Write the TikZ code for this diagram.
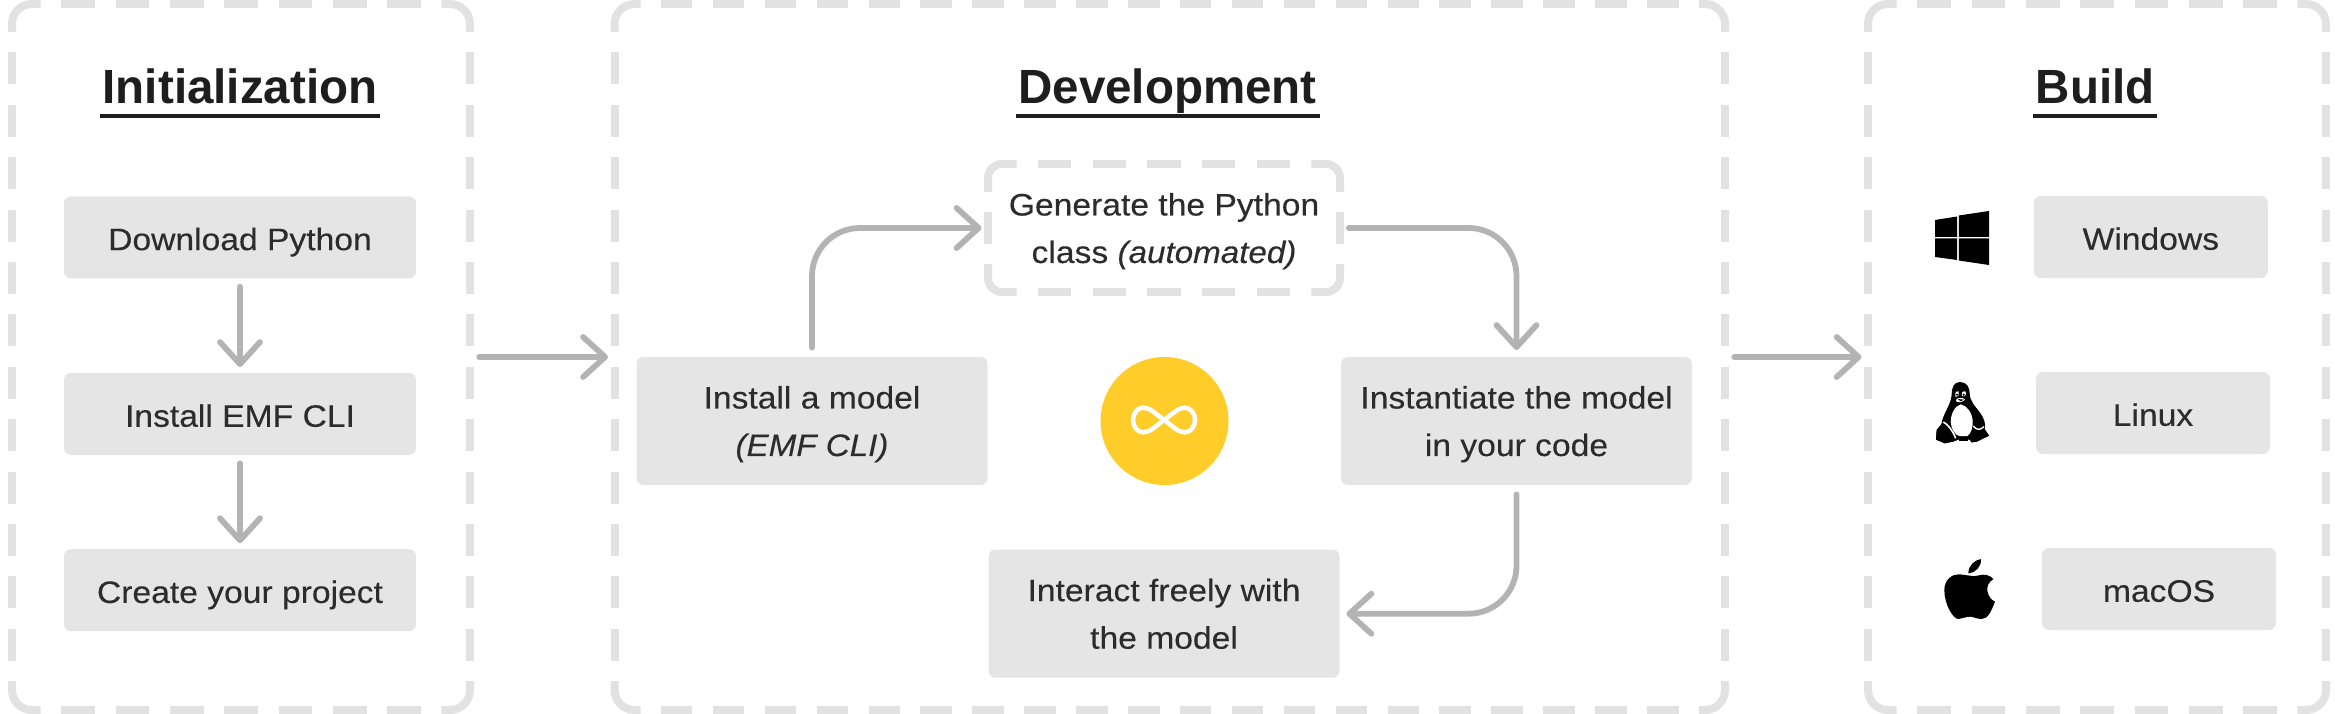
\documentclass[tikz,border=0pt]{standalone}
\usepackage{fontspec}
\setmainfont[UprightFeatures={FakeStretch=1.085,FakeBold=0.25},ItalicFeatures={FakeStretch=1.07,FakeBold=0.25},BoldFeatures={FakeStretch=0.99}]{Liberation Sans}
\usetikzlibrary{arrows.meta,calc}

\definecolor{boxgray}{HTML}{E5E5E5}
\definecolor{framegray}{HTML}{E2E2E2}
\definecolor{arrowgray}{HTML}{B3B3B3}
\definecolor{textdark}{HTML}{2C2C2C}
\definecolor{titledark}{HTML}{1E1E1E}
\definecolor{loopyellow}{HTML}{FFCD29}

\tikzset{
  framearea/.style={minimum width=#1, minimum height=706pt, inner sep=0pt, outer sep=0pt},
  frameline/.style={draw=framegray, line width=8pt},
  stepbox/.style={fill=boxgray, rounded corners=7pt, minimum width=352pt, minimum height=82pt,
    inner sep=0pt, outer sep=0pt, text=textdark, text height=25.5pt, text depth=0pt,
    font=\fontsize{31}{47.5}\selectfont},
  widebox/.style={fill=boxgray, rounded corners=7pt, minimum width=351pt, minimum height=128pt,
    inner sep=0pt, outer sep=0pt, text=textdark, align=center, text depth=0pt,
    font=\fontsize{31}{47.5}\selectfont},
  headtitle/.style={anchor=base, inner sep=0pt, outer sep=0pt, text=titledark,
    font=\fontsize{48}{50}\selectfont\bfseries},
  headrule/.style={draw=titledark, line width=3.7pt},
  flowarrow/.style={draw=arrowgray, line width=5.8pt, line cap=round,
    -{Straight Barb[length=22pt, width=40pt, round]}},
}

\newcommand{\dashframe}[5]{
  \foreach \corner/\sx/\sy in {north west/1/1, north east/-1/1, south east/-1/-1, south west/1/-1}
    \draw[frameline, rounded corners=#2] ($(#1.\corner)+(0,\sy*28)$) -- (#1.\corner) -- ($(#1.\corner)+(\sx*#3,0)$);
  \draw[frameline, dash pattern=on #4pt off #5pt, dash phase=#4pt] ($(#1.north west)+(#3,0)$) -- ($(#1.north east)+(-#3,0)$);
  \draw[frameline, dash pattern=on #4pt off #5pt, dash phase=#4pt] ($(#1.south west)+(#3,0)$) -- ($(#1.south east)+(-#3,0)$);
  \draw[frameline, dash pattern=on 32pt off 20.4pt, dash phase=32pt] ($(#1.north west)+(0,28)$) -- ($(#1.south west)+(0,-28)$);
  \draw[frameline, dash pattern=on 32pt off 20.4pt, dash phase=32pt] ($(#1.north east)+(0,28)$) -- ($(#1.south east)+(0,-28)$);
}

\begin{document}
\begin{tikzpicture}[x=1pt, y=-1pt]
\useasboundingbox (0,0) rectangle (2335,714);

% the three areas
\node[framearea=458pt] (initframe) at (241,357) {};
\node[framearea=1110.5pt] (devframe) at (1169.75,357) {};
\node[framearea=458pt] (buildframe) at (2097,357) {};
\dashframe{initframe}{20pt}{28.7}{33.6}{20.7}
\dashframe{devframe}{20pt}{26}{31.5}{20.4}
\dashframe{buildframe}{20pt}{28.7}{33.6}{20.7}

% titles
\node[headtitle] (inittitle) at (240,104) {Initialization};
\node[headtitle] (devtitle) at (1167.6,104) {Development};
\node[headtitle] (buildtitle) at (2095.3,104) {Build};
\foreach \t in {inittitle,devtitle,buildtitle}
  \draw[headrule] ([xshift=-2.7pt,yshift=-11.8pt]\t.base west) -- ([xshift=2.7pt,yshift=-11.8pt]\t.base east);

% initialization
\node[stepbox] (download) at (240,237.4) {Download Python};
\node[stepbox] (emfcli) at (240,414) {Install EMF CLI};
\node[stepbox] (project) at (240,590.2) {Create your project};
\draw[flowarrow, shorten <=8.3pt, shorten >=6pt] (download) -- (emfcli);
\draw[flowarrow, shorten <=8.3pt, shorten >=6pt] (emfcli) -- (project);

% development
\node[widebox] (install) at (812,421) {Install a model\\\textit{(EMF CLI)}};
\node[widebox, fill=none, minimum width=352pt] (generate) at (1164,228) {Generate the Python\\class \textit{(automated)}};
\node[widebox] (instantiate) at (1516.5,421) {Instantiate the model\\in your code};
\node[widebox] (interact) at (1164,613.7) {Interact freely with\\the model};
\dashframe{generate}{14pt}{28.7}{33.3}{21.35}

\node[circle, fill=loopyellow, minimum size=128pt, inner sep=0pt, outer sep=0pt] (loopdot) at (1164.5,421) {};
\begin{scope}[shift={(1080,345)}, x=1pt/3, y=-1pt/3]
\draw[white, line width=4.5pt] (252,225) .. controls (225,205) and (210,188) .. (190,188)
  .. controls (172,188) and (159,205) .. (159,225) .. controls (159,245) and (172,262) .. (190,262)
  .. controls (210,262) and (225,245) .. (252,225) .. controls (280,205) and (295,188) .. (314,188)
  .. controls (332,188) and (345,205) .. (345,225) .. controls (345,245) and (332,262) .. (314,262)
  .. controls (295,262) and (280,245) .. (252,225) -- cycle;
\end{scope}

\draw[flowarrow, rounded corners=48pt, shorten <=9.5pt, shorten >=6.5pt] (install.north) |- (generate.west);
\draw[flowarrow, rounded corners=48pt, shorten <=8.8pt, shorten >=7pt] (generate.east) -| (instantiate.north);
\draw[flowarrow, rounded corners=48pt, shorten <=9.5pt, shorten >=7pt] (instantiate.south) |- (interact.east);

% build
\node[stepbox, minimum width=234pt] (windows) at (2150.8,237) {Windows};
\node[stepbox, minimum width=234pt] (linux) at (2153,413) {Linux};
\node[stepbox, minimum width=234pt] (macos) at (2159,589) {macOS};

% arrows between the areas
\draw[flowarrow, shorten <=9.2pt, shorten >=6.5pt] (initframe.east) -- (devframe.west);
\draw[flowarrow, shorten <=9.2pt, shorten >=6.5pt] (devframe.east) -- (buildframe.west);

% windows logo
\fill[black] (1935,220) -- (1957,216.5) -- (1957,236.8) -- (1935,236.8) -- cycle;
\fill[black] (1958.8,215.5) -- (1989,211) -- (1989,236.8) -- (1958.8,236.8) -- cycle;
\fill[black] (1935,238.5) -- (1957,238.5) -- (1957,260) -- (1935,257) -- cycle;
\fill[black] (1958.8,238.5) -- (1989,238.5) -- (1989,265) -- (1958.8,260.5) -- cycle;

% linux penguin
\begin{scope}[shift={(1910,370)}, x=1pt/3, y=-1pt/3]
\fill[black] (150,36) .. controls (170,36) and (179,52) .. (179,70)
  .. controls (179,93) and (195,108) .. (210,128) .. controls (222,145) and (228,160) .. (224,178)
  -- (237,197) -- (200,215) -- (185,217) -- (178,209) -- (145,209) -- (130,215)
  -- (105,220) -- (78,209) -- (80,180) -- (94,165) .. controls (96,135) and (123,105) .. (125,75)
  .. controls (125,50) and (133,36) .. (150,36) -- cycle;
% belly and face
\fill[white] (152,103) .. controls (133,108) and (122,135) .. (122,156)
  .. controls (124,178) and (135,196) .. (148,198) -- (172,198)
  .. controls (183,192) and (190,170) .. (188,150) .. controls (186,128) and (170,106) .. (152,103) -- cycle;
\fill[white] (140,86) .. controls (148,82) and (156,82) .. (165,88) .. controls (160,97) and (145,100) .. (138,93) -- cycle;
\fill[white] (136,80) .. controls (134,66) and (140,60) .. (146,64) .. controls (149,71) and (146,82) .. (136,80) -- cycle;
\fill[white] (156,78) .. controls (153,66) and (160,60) .. (166,64) .. controls (170,71) and (167,82) .. (156,78) -- cycle;
\fill[black] (141,74) circle (3.5);
\fill[black] (161,74) circle (3.5);
\fill[black] (143,87) -- (162,89) -- (152,94) -- cycle;
% feet
\fill[black] (96,160) .. controls (110,165) and (125,185) .. (135,200) -- (125,215) -- (105,220)
  -- (78,209) -- (80,180) -- cycle;
\draw[white, line width=1.6pt] (100,156) .. controls (112,161) and (130,185) .. (137,205);
\fill[black] (190,168) .. controls (200,160) and (215,160) .. (224,178) -- (237,197) -- (200,215)
  -- (185,217) .. controls (180,195) and (186,180) .. (190,168) -- cycle;
\draw[white, line width=1.4pt] (190,168) .. controls (198,180) and (210,182) .. (222,170);
\fill[black] (146,207) -- (175,207) -- (175,213) -- (146,213) -- cycle;
\end{scope}

% apple
\begin{scope}[shift={(1925,545)}, x=1pt/3, y=-1pt/3]
\fill[black] (135,92) .. controls (150,98) and (170,85) .. (185,90) .. controls (195,92) and (200,97) .. (205,102)
  .. controls (190,112) and (185,125) .. (187,138) .. controls (190,155) and (200,165) .. (210,170)
  .. controls (200,195) and (190,222) .. (170,222) .. controls (155,222) and (145,215) .. (135,215)
  .. controls (120,215) and (112,222) .. (100,222) .. controls (85,222) and (58,180) .. (58,135)
  .. controls (58,105) and (80,88) .. (100,88) .. controls (115,88) and (125,92) .. (135,92) -- cycle;
\fill[black] (130,85) .. controls (130,60) and (150,45) .. (168,42) .. controls (170,65) and (150,85) .. (130,85) -- cycle;
\end{scope}

\end{tikzpicture}
\end{document}
